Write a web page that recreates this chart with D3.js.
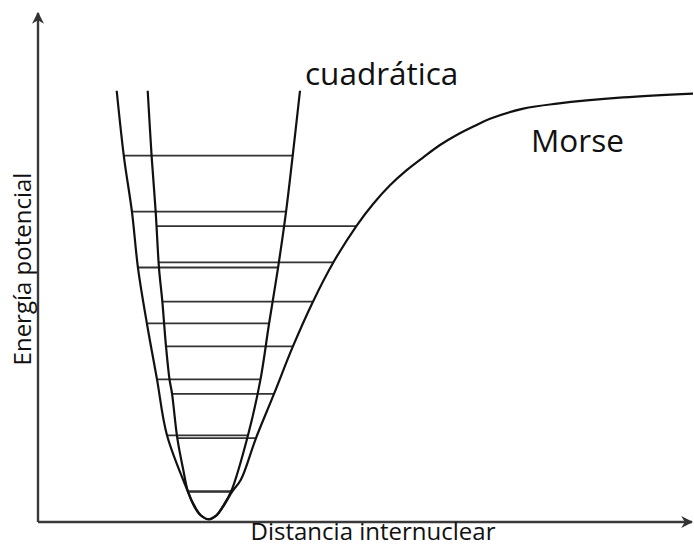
<!DOCTYPE html>
<html>
<head>
<meta charset="utf-8">
<script src="https://cdn.jsdelivr.net/npm/d3@7"></script>
<style>
  body { margin: 0; background: #fff; }
  text { font-family: "Open Sans", "Noto Sans", sans-serif; fill: #111; }
</style>
</head>
<body>
<div id="chart"></div>
<script>
// distancia internuclear (u.a.) y energia (en unidades de hw)
var quadR = [0.787, 0.86, 0.94, 1.00, 1.09, 1.19, 1.29, 1.50, 1.565, 1.625, 1.703, 1.785, 1.845, 1.93, 2.10, 2.225, 2.31, 2.40, 2.48, 2.545, 2.62];
var quadE = [7.66, 6.47, 5.49, 4.49, 3.49, 2.50, 1.50, 0.49, 0.22, 0.07, 0, 0.07, 0.22, 0.49, 1.50, 2.50, 3.49, 4.49, 5.49, 6.47, 7.66];

var morseR = [1.097, 1.137, 1.177, 1.21, 1.243, 1.28, 1.315, 1.34, 1.393, 1.453, 1.50, 1.57, 1.628, 1.703, 1.785, 1.85, 1.94, 2.027, 2.18, 2.36, 2.547, 2.747, 2.953, 3.187, 3.353, 3.52, 3.687, 3.853, 4.02, 4.187, 4.353, 4.52, 4.853, 5.19, 5.85, 6.55];
var morseE = [7.66, 6.47, 5.49, 4.49, 3.90, 3.09, 2.50, 2.25, 1.45, 0.88, 0.49, 0.22, 0.07, 0, 0.07, 0.22, 0.49, 0.70, 1.45, 2.24, 3.08, 3.88, 4.59, 5.25, 5.64, 5.97, 6.24, 6.47, 6.69, 6.87, 7.02, 7.16, 7.34, 7.43, 7.54, 7.61];

// niveles vibracionales
var quadLevelE     = [0.5, 1.5, 2.5, 3.5, 4.5, 5.5, 6.5];
var quadLevelLeft  = [1.50, 1.29, 1.20, 1.10, 1.00, 0.94, 0.86];
var quadLevelRight = [1.93, 2.10, 2.225, 2.31, 2.40, 2.48, 2.545];

var morseLevelE     = [0.49, 1.45, 2.24, 3.09, 3.89, 4.59, 5.24];
var morseLevelLeft  = [1.50, 1.393, 1.34, 1.28, 1.243, 1.21, 1.19];
var morseLevelRight = [1.94, 2.18, 2.36, 2.547, 2.747, 2.953, 3.187];

var xLabel = 'Distancia internuclear';
var yLabel = 'Energía potencial';
var curveNames = ['cuadrática', 'Morse'];

var width = 694, height = 544;
var margin = { left: 38, top: 13, right: 2, bottom: 22 };

var svg = d3.select('#chart').append('svg')
    .attr('width', width)
    .attr('height', height);

var xScale = d3.scaleLinear()
    .domain([0, 6.54])
    .range([margin.left, width - margin.right]);
var yScale = d3.scaleLinear()
    .domain([-0.05, 9.05])
    .range([height - margin.bottom, margin.top]);

var defs = svg.append('defs');
defs.append('marker')
    .attr('id', 'arrow')
    .attr('viewBox', '0 0 10 10')
    .attr('refX', 9).attr('refY', 5)
    .attr('markerWidth', 5).attr('markerHeight', 5)
    .attr('markerUnits', 'strokeWidth')
    .attr('orient', 'auto')
    .append('path')
    .attr('d', 'M0,0 L10,5 L0,10 L3,5 Z')
    .attr('fill', '#333');

// ejes
svg.append('line')
    .attr('x1', xScale(0)).attr('y1', yScale(-0.05))
    .attr('x2', xScale(6.54)).attr('y2', yScale(-0.05))
    .attr('stroke', '#3a3a3a').attr('stroke-width', 2.4)
    .attr('marker-end', 'url(#arrow)');
svg.append('line')
    .attr('x1', xScale(0)).attr('y1', yScale(-0.05))
    .attr('x2', xScale(0)).attr('y2', yScale(9.05))
    .attr('stroke', '#3a3a3a').attr('stroke-width', 2.4)
    .attr('marker-end', 'url(#arrow)');

function levels(E, L, R) {
    return E.map(function (e, i) { return { e: e, l: L[i], r: R[i] }; });
}

svg.selectAll('.qlevel')
    .data(levels(quadLevelE, quadLevelLeft, quadLevelRight))
    .enter().append('line')
    .attr('class', 'qlevel')
    .attr('x1', function (d) { return xScale(d.l); })
    .attr('x2', function (d) { return xScale(d.r); })
    .attr('y1', function (d) { return yScale(d.e); })
    .attr('y2', function (d) { return yScale(d.e); })
    .attr('stroke', '#333').attr('stroke-width', 1.8);

svg.selectAll('.mlevel')
    .data(levels(morseLevelE, morseLevelLeft, morseLevelRight))
    .enter().append('line')
    .attr('class', 'mlevel')
    .attr('x1', function (d) { return xScale(d.l); })
    .attr('x2', function (d) { return xScale(d.r); })
    .attr('y1', function (d) { return yScale(d.e); })
    .attr('y2', function (d) { return yScale(d.e); })
    .attr('stroke', '#333').attr('stroke-width', 1.8);

var line = d3.line()
    .x(function (d) { return xScale(d[0]); })
    .y(function (d) { return yScale(d[1]); })
    .curve(d3.curveCatmullRom.alpha(0.5));

svg.append('path')
    .datum(d3.zip(quadR, quadE))
    .attr('d', line)
    .attr('fill', 'none').attr('stroke', '#111').attr('stroke-width', 2.2);

svg.append('path')
    .datum(d3.zip(morseR, morseE))
    .attr('d', line)
    .attr('fill', 'none').attr('stroke', '#111').attr('stroke-width', 2.2);

// textos
svg.append('text')
    .attr('x', 305).attr('y', 85)
    .attr('font-size', 31.5)
    .text(curveNames[0]);
svg.append('text')
    .attr('x', 531).attr('y', 152)
    .attr('font-size', 31.5)
    .text(curveNames[1]);
svg.append('text')
    .attr('x', 373).attr('y', 540)
    .attr('text-anchor', 'middle')
    .attr('font-size', 24)
    .text(xLabel);
svg.append('text')
    .attr('transform', 'translate(31,269) rotate(-90)')
    .attr('text-anchor', 'middle')
    .attr('font-size', 24)
    .text(yLabel);
</script>
</body>
</html>
